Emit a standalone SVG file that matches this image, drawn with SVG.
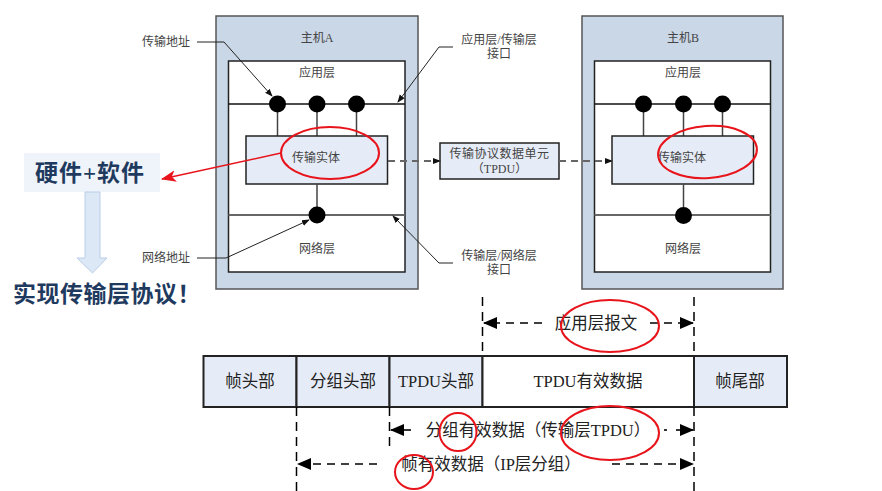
<svg xmlns="http://www.w3.org/2000/svg" width="882" height="491" viewBox="0 0 882 491">
<style>
text{font-family:"Liberation Serif","Noto Sans CJK SC",serif;text-anchor:middle;}
.host{fill:#cad7e6;stroke:#555;stroke-width:1.5}
.inner{fill:#fff;stroke:#222;stroke-width:1.5}
.ent{fill:#e6ecf7;stroke:#222;stroke-width:1.5}
.lbl{font-size:12px;fill:#444}
.red{fill:none;stroke:#e8141b;stroke-width:2}
.cell{stroke:#222;stroke-width:2}
.big{font-size:16.5px;fill:#222}
.dim{stroke:#000;stroke-width:1.6;stroke-dasharray:8 6;fill:none}
.vdash{stroke:#000;stroke-width:1.5;stroke-dasharray:9 6}
.conn{stroke:#666;stroke-width:2;stroke-dasharray:7 5;fill:none}
.lead{stroke:#222;stroke-width:1;fill:none}
.bold{font-size:23px;font-weight:bold;fill:#1f3a5f}
</style>
<defs>
<marker id="ah" markerWidth="10" markerHeight="10" refX="9" refY="5" orient="auto" markerUnits="userSpaceOnUse"><path d="M0,0 L10,5 L0,10 z" fill="#000"/></marker>
<marker id="ahs" markerWidth="8" markerHeight="8" refX="7" refY="4" orient="auto" markerUnits="userSpaceOnUse"><path d="M0,1 L8,4 L0,7 z" fill="#111"/></marker>
<marker id="ahb" markerWidth="14" markerHeight="14" refX="13" refY="7" orient="auto" markerUnits="userSpaceOnUse"><path d="M0,1 L14,7 L0,13 z" fill="#000"/></marker>
<marker id="ahr" markerWidth="16" markerHeight="14" refX="14" refY="7" orient="auto" markerUnits="userSpaceOnUse"><path d="M0,1 L15,7 L0,13 L4,7 z" fill="#e8141b"/></marker>
</defs>

<g id="hostA">
<rect class="host" x="216" y="16" width="202" height="273"/>
<text class="lbl" x="317" y="42">主机A</text>
<rect class="inner" x="228.5" y="61" width="176.5" height="211"/>
<text class="lbl" x="317" y="77">应用层</text>
<line x1="228.5" y1="104" x2="405" y2="104" stroke="#111" stroke-width="1.5"/>
<line x1="277.5" y1="112" x2="277.5" y2="136" stroke="#444" stroke-width="1.5"/>
<line x1="317" y1="112" x2="317" y2="136" stroke="#444" stroke-width="1.5"/>
<line x1="356.5" y1="112" x2="356.5" y2="136" stroke="#444" stroke-width="1.5"/>
<circle cx="277.5" cy="104" r="8.5"/>
<circle cx="317" cy="104" r="8.5"/>
<circle cx="356.5" cy="104" r="8.5"/>
<rect class="ent" x="246" y="136" width="141.5" height="48"/>
<text class="lbl" x="316" y="162">传输实体</text>
<line x1="317" y1="184" x2="317" y2="207" stroke="#444" stroke-width="1.5"/>
<line x1="228.5" y1="215" x2="405" y2="215" stroke="#666" stroke-width="2"/>
<circle cx="317" cy="215" r="8.5"/>
<text class="lbl" x="317" y="253">网络层</text>
</g>

<g id="hostB">
<rect class="host" x="582" y="16" width="201" height="273"/>
<text class="lbl" x="683" y="42">主机B</text>
<rect class="inner" x="594.5" y="61" width="176" height="211"/>
<text class="lbl" x="683" y="77">应用层</text>
<line x1="594.5" y1="104" x2="770.5" y2="104" stroke="#111" stroke-width="1.5"/>
<line x1="643.5" y1="112" x2="643.5" y2="136" stroke="#444" stroke-width="1.5"/>
<line x1="683.5" y1="112" x2="683.5" y2="136" stroke="#444" stroke-width="1.5"/>
<line x1="722.5" y1="112" x2="722.5" y2="136" stroke="#444" stroke-width="1.5"/>
<circle cx="643.5" cy="104" r="8.5"/>
<circle cx="683.5" cy="104" r="8.5"/>
<circle cx="722.5" cy="104" r="8.5"/>
<rect class="ent" x="612" y="136" width="141.5" height="48"/>
<text class="lbl" x="682" y="162">传输实体</text>
<line x1="683.5" y1="184" x2="683.5" y2="207" stroke="#444" stroke-width="1.5"/>
<line x1="594.5" y1="215" x2="770.5" y2="215" stroke="#666" stroke-width="2"/>
<circle cx="683.5" cy="215.5" r="8.5"/>
<text class="lbl" x="683" y="253">网络层</text>
</g>

<g id="tpdu">
<rect class="ent" x="440" y="143" width="119" height="36"/>
<text class="lbl" x="499.5" y="158" letter-spacing="0.5">传输协议数据单元</text>
<text class="lbl" x="499.5" y="173">（TPDU）</text>
</g>

<g id="labels">
<text class="lbl" x="166" y="46">传输地址</text>
<text class="lbl" x="166" y="262">网络地址</text>
<text class="lbl" x="499" y="44">应用层/传输层</text>
<text class="lbl" x="499" y="58">接口</text>
<text class="lbl" x="499" y="260">传输层/网络层</text>
<text class="lbl" x="499" y="274">接口</text>
</g>

<g id="hwsw">
<rect x="24" y="153" width="136" height="39" fill="#eef4fa"/>
<text class="bold" x="90" y="181" letter-spacing="1">硬件+软件</text>
</g>
<g id="impl">
<text class="bold" x="107" y="302" letter-spacing="0.5">实现传输层协议！</text>
</g>

<g id="frame">
<rect class="cell" x="203.5" y="356" width="93" height="51" fill="#e6ecf7"/>
<rect class="cell" x="296.5" y="356" width="93" height="51" fill="#e6ecf7"/>
<rect class="cell" x="389.5" y="356" width="93" height="51" fill="#e6ecf7"/>
<rect class="cell" x="482.5" y="356" width="211.5" height="51" fill="#fff"/>
<rect class="cell" x="694" y="356" width="93" height="51" fill="#e6ecf7"/>
<text class="big" x="250" y="387">帧头部</text>
<text class="big" x="343" y="387">分组头部</text>
<text class="big" x="436" y="387">TPDU头部</text>
<text class="big" x="588" y="387">TPDU有效数据</text>
<text class="big" x="740" y="387">帧尾部</text>
<text class="big" x="596" y="329">应用层报文</text>
<text class="big" x="538" y="436">分组有效数据（传输层TPDU）</text>
<text class="big" x="491" y="470">帧有效数据（IP层分组）</text>
</g>

<g id="connectors">
<path class="lead" d="M197,42 H224 L272,96" marker-end="url(#ahs)"/>
<path class="lead" d="M197,258 H226 L309,220" marker-end="url(#ahs)"/>
<path class="lead" d="M453,47 H439 L398,102" marker-end="url(#ahs)"/>
<path class="lead" d="M453,263 H439 L393,216" marker-end="url(#ahs)"/>
<line class="conn" x1="388" y1="161" x2="440" y2="161" marker-end="url(#ahs)"/>
<line class="conn" x1="559" y1="161" x2="612" y2="161" marker-end="url(#ahs)"/>
<line x1="281" y1="153" x2="162" y2="179" stroke="#e8141b" stroke-width="1.5" marker-end="url(#ahr)"/>
<path d="M85,192 H100 V258 H107 L92.5,273 L77,258 H85 Z" fill="#dde8f6" stroke="#b9cde8" stroke-width="1"/>

<line class="vdash" x1="482.5" y1="297" x2="482.5" y2="356"/>
<line class="vdash" x1="694" y1="297" x2="694" y2="356"/>
<line class="vdash" x1="694" y1="407" x2="694" y2="491"/>
<line class="vdash" x1="389.5" y1="407" x2="389.5" y2="446"/>
<line class="vdash" x1="296.5" y1="407" x2="296.5" y2="491"/>

<line class="dim" x1="542" y1="323" x2="484" y2="323" marker-end="url(#ahb)"/>
<line class="dim" x1="650" y1="323" x2="693" y2="323" marker-end="url(#ahb)"/>
<line x1="411" y1="430" x2="391" y2="430" stroke="#000" stroke-width="1.6" marker-end="url(#ahb)"/>
<line x1="664" y1="430" x2="667" y2="430" stroke="#000" stroke-width="1.6"/>
<line x1="676" y1="430" x2="693" y2="430" stroke="#000" stroke-width="1.6" marker-end="url(#ahb)"/>
<line class="dim" x1="377" y1="464" x2="298" y2="464" marker-end="url(#ahb)"/>
<line class="dim" x1="612" y1="464" x2="693" y2="464" marker-end="url(#ahb)"/>
</g>

<g id="highlights">
<ellipse class="red" cx="330" cy="153" rx="49" ry="26"/>
<ellipse class="red" cx="707.5" cy="152" rx="49.5" ry="26" transform="rotate(-4 707.5 152)"/>
<ellipse class="red" cx="610" cy="326" rx="49" ry="26"/>
<ellipse class="red" cx="610" cy="433" rx="49" ry="27"/>
<ellipse class="red" cx="458" cy="432" rx="18.5" ry="19"/>
<ellipse class="red" cx="414" cy="472" rx="19" ry="17"/>
</g>
</svg>
